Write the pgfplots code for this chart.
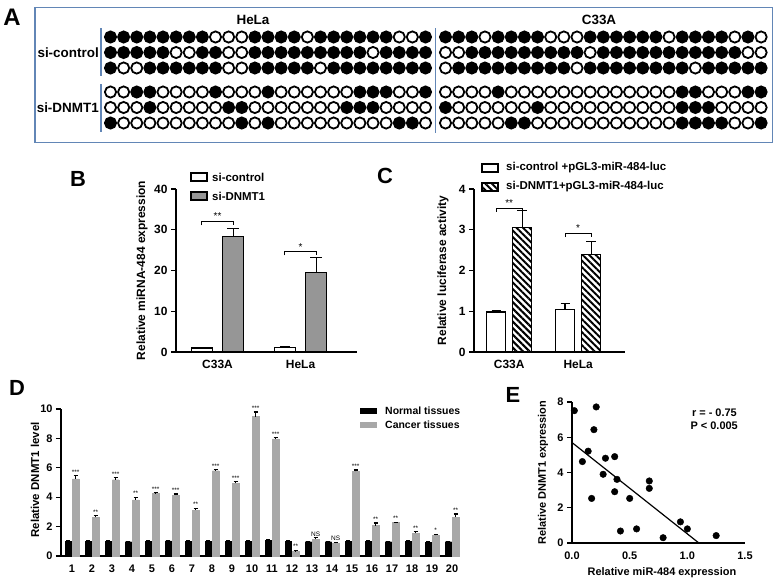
\documentclass[border=0pt]{standalone}
\usepackage{fontspec}
\setmainfont{Liberation Sans}
\usepackage{pgfplots}
\pgfplotsset{compat=1.18}
\usepackage{pgfplotstable}
\usetikzlibrary{patterns.meta}

\definecolor{boxblue}{RGB}{98,134,182}
\definecolor{barg}{RGB}{150,150,150}
\definecolor{barl}{RGB}{168,168,168}

\tikzset{hatch/.style={pattern={Lines[angle=-45, distance=4.6bp, line width=2bp]}}}

% methylation: 1 = methylated (filled), 0 = unmethylated (open)
\pgfplotstableread{
k c1 c2 c3 d1 d2 d3
0 1 1 1 0 0 1
1 1 1 0 0 0 0
2 1 1 0 1 0 0
3 1 1 1 1 1 0
4 1 1 1 0 0 0
5 1 0 1 0 0 0
6 1 0 1 0 0 0
7 1 1 1 0 0 0
8 0 1 1 1 0 0
9 0 0 0 0 1 0
10 0 0 0 0 1 1
11 1 1 1 0 0 0
12 1 1 1 1 0 1
13 1 1 1 0 0 0
14 1 1 1 0 0 0
15 0 1 1 0 0 0
16 1 1 0 0 0 0
17 1 1 1 0 0 0
18 1 1 1 0 1 0
19 1 1 1 1 1 0
20 1 0 1 1 1 0
21 1 1 1 1 0 0
22 0 1 1 0 0 1
23 0 1 1 0 0 1
24 1 1 1 1 0 0
}\hela

\pgfplotstableread{
k c1 c2 c3 d1 d2 d3
0 1 0 0 0 1 0
1 1 0 1 0 0 0
2 1 1 1 0 0 0
3 0 1 1 0 0 0
4 1 1 1 1 0 0
5 1 1 1 0 0 1
6 1 1 1 0 0 1
7 1 1 1 0 1 0
8 0 1 1 0 0 0
9 0 1 1 0 0 0
10 0 1 0 0 0 0
11 1 0 1 0 0 0
12 1 1 1 0 0 0
13 1 1 1 0 0 0
14 1 1 1 0 0 0
15 1 1 1 0 0 0
16 1 1 1 0 0 0
17 0 1 1 0 0 0
18 1 1 1 1 1 1
19 1 1 0 1 1 1
20 1 1 1 0 1 1
21 1 1 1 0 0 1
22 0 1 1 0 0 0
23 1 0 1 1 0 0
24 0 0 1 1 0 1
}\cthree

\pgfplotstableread{
k normal nerr cancer cerr sig
1 1.00 0.05 5.25 0.20 ***
2 0.98 0.04 2.62 0.12 **
3 0.98 0.04 5.19 0.15 ***
4 0.97 0.04 3.82 0.17 **
5 0.98 0.04 4.25 0.06 ***
6 1.03 0.05 4.14 0.08 ***
7 0.98 0.04 3.12 0.12 **
8 0.98 0.04 5.80 0.06 ***
9 0.98 0.04 4.96 0.10 ***
10 1.02 0.06 9.49 0.30 ***
11 1.05 0.05 7.97 0.08 ***
12 1.02 0.05 0.30 0.10 **
13 0.97 0.04 1.14 0.10 NS
14 0.97 0.04 0.87 0.05 NS
15 0.98 0.04 5.75 0.10 ***
16 0.98 0.04 2.07 0.18 **
17 0.97 0.04 2.27 0.02 **
18 0.98 0.05 1.55 0.10 **
19 0.95 0.04 1.41 0.06 *
20 0.97 0.04 2.64 0.22 **
}\dnmt

\pgfplotstableread{
mir dnmt
0.02 7.51
0.21 7.72
0.19 6.43
0.14 5.21
0.09 4.62
0.29 4.81
0.37 4.90
0.27 3.90
0.39 3.61
0.37 2.91
0.17 2.53
0.50 2.53
0.67 3.52
0.67 3.10
0.42 0.68
0.56 0.80
0.79 0.30
0.94 1.20
1.00 0.80
1.25 0.42
}\corr

\pgfplotsset{
  prism/.style={scale only axis, clip=false,
    axis x line*=bottom, axis y line*=left,
    axis line style={-, line width=1.3bp},
    tick align=outside, major tick length=5bp,
    tick style={black, line width=1.2bp},
    xtick style={draw=none},
    tick label style={font=\fontsize{12}{12}\selectfont\bfseries},
    label style={font=\fontsize{12}{14}\selectfont\bfseries},
    /pgf/number format/assume math mode=true},
  dot/.style={scatter, only marks, point meta=explicit symbolic,
    scatter/classes={
      0={mark=*, mark size=5.6bp, draw=black, fill=white, line width=1.8bp},
      1={mark=*, mark size=5.6bp, draw=black, fill=black, line width=1.8bp}}},
  ebar/.style={error bars/.cd, y dir=plus, y explicit,
    error bar style={black, line width=1.2bp},
    error mark options={rotate=90, mark size=#1, line width=1.2bp}}
}

\begin{document}
\begin{tikzpicture}
\path[use as bounding box] (0,0) rectangle (778bp,-583bp);

% ---- panel A and the free text, on a canvas in pixel units
\begin{axis}[at={(0,0)}, anchor=north west, scale only axis,
  width=778bp, height=583bp, xmin=0, xmax=778, ymin=0, ymax=583,
  y dir=reverse, hide axis, clip=false]
  \draw[boxblue, line width=1.3bp] (35,7.5) rectangle (772.5,142.5);
  \draw[boxblue, line width=1.5bp] (101,28) -- (101,76);
  \draw[boxblue, line width=1.5bp] (101,84) -- (101,132);
  \draw[boxblue, line width=1.5bp] (435.5,28) -- (435.5,133);

  \addplot[dot] table[x expr=110.5+13.125*\thisrow{k}, y expr=37, meta=c1] {\hela};
  \addplot[dot] table[x expr=110.5+13.125*\thisrow{k}, y expr=52.5, meta=c2] {\hela};
  \addplot[dot] table[x expr=110.5+13.125*\thisrow{k}, y expr=68, meta=c3] {\hela};
  \addplot[dot] table[x expr=110.5+13.125*\thisrow{k}, y expr=92, meta=d1] {\hela};
  \addplot[dot] table[x expr=110.5+13.125*\thisrow{k}, y expr=107.5, meta=d2] {\hela};
  \addplot[dot] table[x expr=110.5+13.125*\thisrow{k}, y expr=123, meta=d3] {\hela};
  \addplot[dot] table[x expr=445.5+13.15*\thisrow{k}, y expr=37, meta=c1] {\cthree};
  \addplot[dot] table[x expr=445.5+13.15*\thisrow{k}, y expr=52.5, meta=c2] {\cthree};
  \addplot[dot] table[x expr=445.5+13.15*\thisrow{k}, y expr=68, meta=c3] {\cthree};
  \addplot[dot] table[x expr=445.5+13.15*\thisrow{k}, y expr=92, meta=d1] {\cthree};
  \addplot[dot] table[x expr=445.5+13.15*\thisrow{k}, y expr=107.5, meta=d2] {\cthree};
  \addplot[dot] table[x expr=445.5+13.15*\thisrow{k}, y expr=123, meta=d3] {\cthree};

  \begin{scope}[every node/.style={font=\fontsize{13.5}{14}\selectfont\bfseries, inner sep=0pt}]
    \node at (253,20) {HeLa};
    \node at (599,20) {C33A};
    \node[anchor=east] at (99,52.5) {si-control};
    \node[anchor=east] at (99,107.5) {si-DNMT1};
  \end{scope}

  \begin{scope}[every node/.style={font=\fontsize{22}{22}\selectfont\bfseries, inner sep=0pt}]
    \node[font=\fontsize{24}{24}\selectfont\bfseries] at (12,17) {A};
    \node at (78,179) {B};
    \node at (385,176) {C};
    \node at (17,388) {D};
    \node at (513,395) {E};
  \end{scope}

  % legends
  \begin{scope}[every node/.style={font=\fontsize{11.5}{12}\selectfont\bfseries, anchor=west, inner sep=0pt}]
    \draw[line width=1.2bp, fill=white] (191,173) rectangle (207,181);
    \node at (212,177) {si-control};
    \draw[line width=1.2bp, fill=barg] (191,192) rectangle (207,200);
    \node at (212,196) {si-DNMT1};
    \draw[line width=1.2bp, fill=white] (482,164) rectangle (498,172);
    \node at (506,168) {si-control +pGL3-miR-484-luc};
    \draw[line width=1.2bp, hatch] (482,183) rectangle (498,191);
    \node at (506,187) {si-DNMT1+pGL3-miR-484-luc};
  \end{scope}
  \begin{scope}[every node/.style={font=\fontsize{10.5}{11}\selectfont\bfseries, anchor=west, inner sep=0pt}]
    \fill[black] (360,408) rectangle (377,414);
    \node at (385,411) {Normal tissues};
    \fill[barl] (360,422) rectangle (377,428);
    \node at (385,425) {Cancer tissues};
  \end{scope}
  \begin{scope}[every node/.style={font=\fontsize{11}{11}\selectfont\bfseries, anchor=east, inner sep=0pt}]
    \node at (737,413) {r = - 0.75};
    \node at (738,426) {P < 0.005};
  \end{scope}
\end{axis}

% ---- panel B
\begin{axis}[prism, at={(176bp,-352bp)}, anchor=south west,
  width=181bp, height=163bp, xmin=0.5, xmax=2.68, ymin=0, ymax=40,
  ytick={0,10,20,30,40}, xtick={1,2}, xticklabels={C33A,HeLa},
  ylabel={Relative miRNA-484 expression},
  ylabel style={at={(axis description cs:-0.188,0.5)}, anchor=center}]
  \addplot[ybar, bar width=21bp, bar shift=0pt, fill=white, draw=black,
    line width=1.3bp, ebar=5bp] coordinates {(0.81,1.0) +- (0,0.08) (1.81,1.1) +- (0,0.12)};
  \addplot[ybar, bar width=21bp, bar shift=0pt, fill=barg, draw=black,
    line width=1.3bp, ebar=6bp] coordinates {(1.19,28.3) +- (0,2.1) (2.19,19.5) +- (0,3.6)};
  \draw[line width=1bp] (axis cs:0.81,31.1) -- (axis cs:0.81,32) -- (axis cs:1.19,32) -- (axis cs:1.19,31.1);
  \node[anchor=base, inner sep=0pt, font=\fontsize{10}{10}\selectfont] at (axis cs:1,32.4) {**};
  \draw[line width=1bp] (axis cs:1.81,23.7) -- (axis cs:1.81,24.6) -- (axis cs:2.19,24.6) -- (axis cs:2.19,23.7);
  \node[anchor=base, inner sep=0pt, font=\fontsize{10}{10}\selectfont] at (axis cs:2,25) {*};
\end{axis}

% ---- panel C
\begin{axis}[prism, at={(474bp,-352bp)}, anchor=south west,
  width=151bp, height=163bp, xmin=0.49, xmax=2.68, ymin=0, ymax=4,
  ytick={0,1,2,3,4}, xtick={1,2}, xticklabels={C33A,HeLa},
  ylabel={Relative luciferase activity},
  ylabel style={at={(axis description cs:-0.205,0.5)}, anchor=center}]
  \addplot[ybar, bar width=19bp, bar shift=0pt, fill=white, draw=black,
    line width=1.3bp, ebar=4.5bp] coordinates {(0.81,0.98) +- (0,0.03) (1.81,1.04) +- (0,0.15)};
  \addplot[ybar, bar width=19bp, bar shift=0pt, hatch, draw=black,
    line width=1.3bp, ebar=5bp] coordinates {(1.19,3.06) +- (0,0.42) (2.19,2.4) +- (0,0.32)};
  \draw[line width=1bp] (axis cs:0.81,3.44) -- (axis cs:0.81,3.53) -- (axis cs:1.19,3.53) -- (axis cs:1.19,3.44);
  \node[anchor=base, inner sep=0pt, font=\fontsize{10}{10}\selectfont] at (axis cs:1,3.57) {**};
  \draw[line width=1bp] (axis cs:1.81,2.82) -- (axis cs:1.81,2.91) -- (axis cs:2.19,2.91) -- (axis cs:2.19,2.82);
  \node[anchor=base, inner sep=0pt, font=\fontsize{10}{10}\selectfont] at (axis cs:2,2.95) {*};
\end{axis}

% ---- panel D
\begin{axis}[prism, at={(61bp,-556bp)}, anchor=south west,
  width=399bp, height=147bp, xmin=0.45, xmax=20.4, ymin=0, ymax=10,
  ytick={0,2,...,10}, xtick={1,...,20},
  tick label style={font=\fontsize{11}{11}\selectfont\bfseries},
  label style={font=\fontsize{11.5}{13}\selectfont\bfseries},
  ylabel={Relative DNMT1 level},
  ylabel style={at={(axis description cs:-0.065,0.517)}, anchor=center}]
  \addplot[ybar, bar width=6.5bp, bar shift=0pt, fill=black, draw=black, ebar=2bp]
    table[x expr=\thisrow{k}-0.185, y=normal, y error=nerr] {\dnmt};
  \addplot[ybar, bar width=6.5bp, bar shift=0pt, fill=barl, draw=barl, ebar=2bp]
    table[x expr=\thisrow{k}+0.185, y=cancer, y error=cerr] {\dnmt};
  \addplot[draw=none, mark=none, nodes near coords, point meta=explicit symbolic,
    every node near coord/.append style={anchor=base, inner sep=0pt, yshift=1.5bp,
      font=\fontsize{6.5}{6.5}\selectfont}]
    table[x expr=\thisrow{k}+0.185, y expr=\thisrow{cancer}+\thisrow{cerr}, meta=sig] {\dnmt};
\end{axis}

% ---- panel E
\begin{axis}[prism, at={(572bp,-543bp)}, anchor=south west,
  width=173bp, height=141bp, xmin=0, xmax=1.5, ymin=0, ymax=8,
  xtick={0,0.5,1,1.5}, ytick={0,2,...,8}, xtick style={black, line width=1.2bp},
  tick label style={font=\fontsize{11}{11}\selectfont\bfseries},
  label style={font=\fontsize{11}{13}\selectfont\bfseries},
  xticklabel style={/pgf/number format/fixed, /pgf/number format/fixed zerofill,
    /pgf/number format/precision=1},
  xlabel={Relative miR-484 expression}, ylabel={Relative DNMT1 expression},
  xlabel style={at={(axis description cs:0.52,-0.21)}, anchor=center},
  ylabel style={at={(axis description cs:-0.168,0.5)}, anchor=center}]
  \addplot[only marks, mark=*, mark size=3.3bp, black] table[x=mir, y=dnmt] {\corr};
  \addplot[black, line width=1.2bp] coordinates {(0,5.7) (1.1,0)};
\end{axis}
\end{tikzpicture}
\end{document}
